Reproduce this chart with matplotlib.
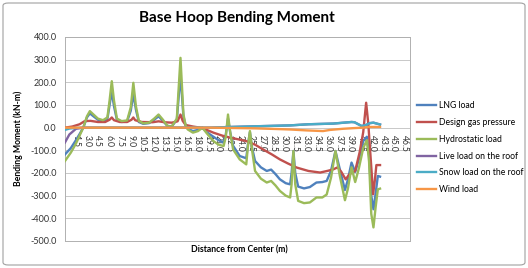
import numpy as np
import matplotlib
matplotlib.use("Agg")
import matplotlib.pyplot as plt
from matplotlib.patches import FancyBboxPatch
import matplotlib.transforms as mtransforms

plt.rcParams['font.family'] = ['Lato', 'DejaVu Sans']

# LNG load
x_lng = [0, 0.8, 1.5, 2.0, 2.5, 3.0, 3.4, 3.9, 4.5, 5.2, 5.8, 6.1, 6.4, 6.7, 7.1, 7.75, 8.5, 9.0, 9.35, 9.7,
         10.1, 10.7, 11.5, 12.2, 12.8, 13.4, 14.0, 14.6, 15.3, 15.8, 16.2, 16.5, 16.8, 17.5, 18.2, 18.8, 19.4,
         20.3, 21.0, 21.7, 22.0, 22.3, 22.6, 23.0, 23.9, 24.8, 25.0, 25.3, 25.6, 26.0, 26.8, 27.6, 28.2, 28.8,
         29.4, 30.2, 30.8, 31.0, 31.25, 31.5, 31.9, 32.7, 33.5, 34.4, 35.2, 35.8, 36.4, 37.0, 37.6, 38.3, 38.7,
         39.2, 39.7, 40.2, 40.8, 41.3, 41.6, 41.9, 42.2, 42.5, 42.8, 43.1]
y_lng = [-118, -90, -55, -28, 0, 45, 63, 50, 35, 28, 38, 100, 160, 95, 35, 25, 28, 75, 150, 80,
         25, 17, 20, 35, 50, 30, 8, 5, 35, 235, 50, 10, -5, -15, -10, 0, -20,
         -40, -55, -66, -30, 40, -20, -80, -125, -135, -80, -20, -90, -147, -175, -191, -185, -205,
         -228, -245, -250, -200, -103, -200, -260, -268, -262, -242, -240, -235, -190, -103, -184, -275, -230,
         -154, -195, -140, -59, -40, -120, -300, -360, -290, -213, -216]

# Design gas pressure
x_gas = [0, 1.0, 2.0, 2.7, 3.5, 4.5, 5.5, 6.1, 6.4, 6.7, 7.5, 8.5, 9.1, 9.35, 9.6, 10.5, 12.0, 12.8, 13.6,
         14.6, 15.4, 15.8, 16.1, 16.5, 17.5, 18.5, 19.4, 20.3, 21.5, 22.6, 23.8, 24.8, 26.0, 27.1, 28.3,
         29.4, 30.5, 31.7, 33.3, 34.9, 36.0, 36.7, 37.3, 37.8, 38.4, 38.9, 39.7, 40.3, 40.8, 41.2, 41.5,
         42.0, 42.15, 42.4, 42.6, 43.1]
y_gas = [0, 5, 15, 29, 30, 25, 25, 35, 45, 33, 25, 25, 35, 45, 33, 25, 24, 28, 24,
         22, 28, 58, 30, 12, 5, 0, -10, -22, -35, -44, -52, -59, -75, -96, -118,
         -140, -158, -176, -191, -198, -190, -184, -175, -195, -228, -206, -191, -110, -20, 110, 15,
         -220, -294, -230, -165, -165]

# Hydrostatic load
x_hyd = x_lng
y_hyd = [-147, -110, -70, -35, 0, 50, 73, 58, 40, 33, 45, 120, 205, 120, 40, 29, 32, 90, 198, 95,
         30, 19, 22, 40, 58, 35, 8, 5, 40, 308, 60, 10, -8, -22, -15, 0, -25,
         -59, -75, -81, -40, 58, -20, -96, -140, -162, -90, -15, -100, -191, -225, -242, -235, -255,
         -279, -300, -308, -250, -103, -250, -323, -333, -330, -308, -308, -295, -220, -103, -213, -320, -270,
         -175, -240, -180, -90, -55, -150, -380, -440, -350, -272, -269]

# Live load on the roof
x_live = [0, 0.6, 1.5, 2.5, 10, 16, 20, 22.6, 26, 30.8, 33.3, 36.7, 39.2, 39.6, 40.6, 41.2, 41.7, 42.2, 43.1]
y_live = [-65, -30, -5, 0, 0, 0, 0, 3, 6, 10, 15, 18, 25, 24, 7, 12, 20, 22, 14]

# Snow load on the roof
x_snow = [0, 0.6, 1.5, 2.5, 10, 16, 20, 22.6, 26, 30.8, 33.3, 36.7, 39.2, 39.6, 40.6, 41.2, 41.7, 42.2, 43.1]
y_snow = [-10, -4, -1, 0, 0, 0, 0, 3, 6, 10, 15, 18, 25, 24, 7, 12, 20, 22, 14]

# Wind load
x_wind = [0, 10, 20, 26, 29, 30.8, 33, 35.3, 36.25, 38, 39.5, 40.8, 41.5, 43.1]
y_wind = [0, 0, 0, -3, -6, -8, -12, -15, -10, -5, -2, 0, 3, 3]

tick_vals = np.arange(1.5, 46.6, 1.5)

fig = plt.figure(figsize=(5.28, 2.68), dpi=100)
ax = fig.add_axes([65/528, 1-241/268, 345/528, 204/268])

series = [
    (x_lng, y_lng, '#4F81BD', 'LNG load'),
    (x_gas, y_gas, '#C0504D', 'Design gas pressure'),
    (x_hyd, y_hyd, '#9BBB59', 'Hydrostatic load'),
    (x_live, y_live, '#8064A2', 'Live load on the roof'),
    (x_snow, y_snow, '#4BACC6', 'Snow load on the roof'),
    (x_wind, y_wind, '#F79646', 'Wind load'),
]
for i, (xs, ys, c, lab) in enumerate(series):
    ax.plot(xs, ys, color=c, lw=1.7, label=lab, zorder=3+i, solid_joinstyle='round')

ax.set_xlim(0, 47.2)
ax.set_ylim(-500, 400)
ax.set_yticks(np.arange(-500, 401, 100))
ax.set_yticklabels(['%.1f' % v for v in np.arange(-500, 401, 100)], fontsize=6.5, color='#333333')
ax.tick_params(axis='y', length=0, pad=6)
ax.set_xticks([])
ax.grid(axis='y', color='#c8c8c8', lw=0.7)
ax.set_axisbelow(True)
for s in ax.spines.values():
    s.set_color('#b0b0b0')
    s.set_linewidth(0.7)

# category labels hanging from the zero line
off = mtransforms.offset_copy(ax.transData, fig=fig, x=0, y=-5, units='points')
for v in tick_vals:
    ax.text(v, 0, '%.1f' % v, rotation=-90, ha='center', va='top', fontsize=6.2,
            color='#333333', transform=off, zorder=2)

fig.text(237/528, 1-18/268, 'Base Hoop Bending Moment', ha='center', va='center',
         fontsize=11, fontweight='bold')
fig.text(18/528, 1-138/268, 'Bending Moment (kN-m)', rotation=90, ha='center', va='center',
         fontsize=6.2, fontweight='bold')
fig.text(239/528, 1-250/268, 'Distance from Center (m)', ha='center', va='center',
         fontsize=6.2, fontweight='bold')

fig.legend(loc='upper left', bbox_to_anchor=(414/528, 1-98/268), frameon=False, fontsize=6.2,
           handlelength=2.2, handletextpad=0.3, labelspacing=0.9, borderaxespad=0)

border = FancyBboxPatch((3/528, 3/268), 522/528, 262/268, boxstyle='round,pad=0,rounding_size=0.01',
                        transform=fig.transFigure, fill=False, edgecolor='#a0a0a0', lw=0.8)
fig.patches.append(border)

fig.savefig('out.png', dpi=100)
